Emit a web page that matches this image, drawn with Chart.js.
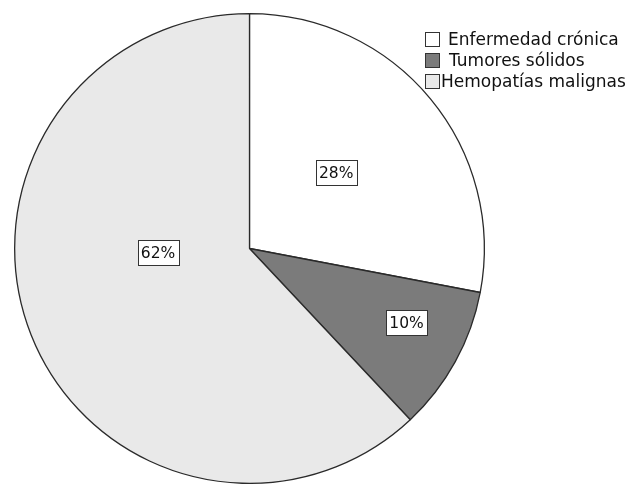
<!DOCTYPE html>
<html>
<head>
<meta charset="utf-8">
<script src="https://cdn.jsdelivr.net/npm/chart.js@4"></script>
<style>
  html, body { margin: 0; padding: 0; background: #fff; }
  #wrap { width: 630px; height: 484px; position: relative; }
</style>
</head>
<body>
<div id="wrap"><canvas id="pie_chart"></canvas></div>
<script>
// Diagnosis groups and their share of patients (%)
const categories = ['Enfermedad crónica', 'Tumores sólidos', 'Hemopatías malignas'];
const shares = [28, 10, 62];
const sliceColors = ['#ffffff', '#7b7b7b', '#e9e9e9'];

// Where each percentage box sits inside its slice:
// fraction along the slice's angle and fraction of the radius
const labelAngleFrac = [0.485, 0.405, 0.585];
const labelRadiusFrac = [0.49, 0.74, 0.39];

const FONT = '"DejaVu Sans", "Liberation Sans", sans-serif';

// Boxed percentage labels inside the slices
const boxLabels = {
    id: 'boxLabels',
    afterDatasetsDraw(chart) {
        const ctx = chart.ctx;
        const arcs = chart.getDatasetMeta(0).data;
        ctx.save();
        ctx.font = '15.5px ' + FONT;
        ctx.textAlign = 'center';
        ctx.textBaseline = 'middle';
        arcs.forEach((arc, i) => {
            const p = arc.getProps(['x', 'y', 'startAngle', 'endAngle', 'outerRadius'], true);
            const a = p.startAngle + (p.endAngle - p.startAngle) * labelAngleFrac[i];
            const r = p.outerRadius * labelRadiusFrac[i];
            const x = p.x + Math.cos(a) * r;
            const y = p.y + Math.sin(a) * r;
            const text = shares[i] + '%';
            const w = Math.round(ctx.measureText(text).width + 7);
            const h = 25;
            const bx = Math.round(x - w / 2) + 0.5;
            const by = Math.round(y - h / 2) + 0.5;
            ctx.fillStyle = '#ffffff';
            ctx.fillRect(bx, by, w, h);
            ctx.strokeStyle = '#333333';
            ctx.lineWidth = 1;
            ctx.strokeRect(bx, by, w, h);
            ctx.fillStyle = '#111111';
            ctx.fillText(text, x, y + 1);
        });
        ctx.restore();
    }
};

// Legend block in the top right corner
const cornerLegend = {
    id: 'cornerLegend',
    afterDraw(chart) {
        const ctx = chart.ctx;
        const textX = [448, 449, 441];
        ctx.save();
        ctx.font = '17px ' + FONT;
        ctx.textBaseline = 'middle';
        categories.forEach((name, i) => {
            const y = 40 + i * 21;
            ctx.fillStyle = sliceColors[i];
            ctx.fillRect(425.5, y - 7.5, 14, 14);
            ctx.strokeStyle = '#333333';
            ctx.lineWidth = 1;
            ctx.strokeRect(425.5, y - 7.5, 14, 14);
            ctx.fillStyle = '#111111';
            ctx.fillText(name, textX[i], y + 1);
        });
        ctx.restore();
    }
};

document.addEventListener('DOMContentLoaded', () => {
    const ctx = document.getElementById('pie_chart').getContext('2d');
    new Chart(ctx, {
        type: 'pie',
        data: {
            labels: categories,
            datasets: [{
                data: shares,
                backgroundColor: sliceColors,
                borderColor: '#2a2a2a',
                borderWidth: 1.3,
                borderAlign: 'center'
            }]
        },
        options: {
            responsive: true,
            maintainAspectRatio: false,
            animation: false,
            events: [],
            layout: { padding: { left: 13, right: 144, top: 13, bottom: 0 } },
            plugins: {
                legend: { display: false },
                tooltip: { enabled: false }
            }
        },
        plugins: [boxLabels, cornerLegend]
    });
});
</script>
</body>
</html>
